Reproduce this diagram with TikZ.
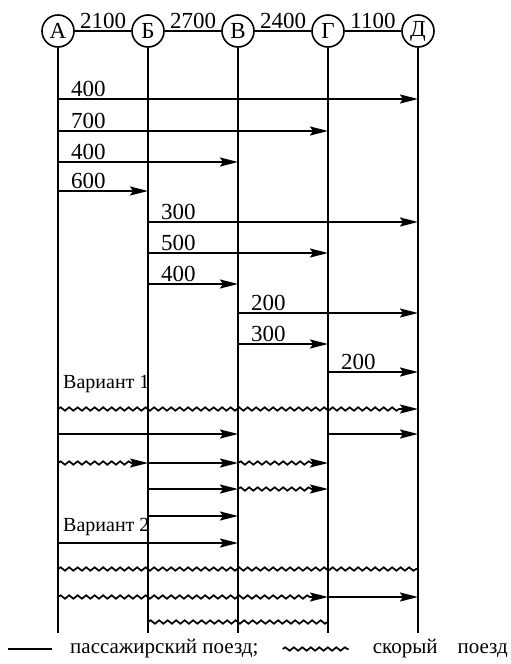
\documentclass[tikz,border=0pt]{standalone}
\usepackage{fontspec}
\setmainfont{Liberation Serif}
\usetikzlibrary{arrows.meta,decorations.pathmorphing}

\begin{document}
\begin{tikzpicture}[x=1pt,y=1pt,>={Stealth[length=18pt,width=9pt,inset=3pt]},font=\fontsize{23}{25}\selectfont]
\tikzset{
  station/.style={circle,draw,line width=1.6pt,minimum size=32pt,inner sep=0pt},
  track/.style={line width=2.4pt},
  pass/.style={->,line width=2pt},
  wave/.style={line width=1.7pt,decorate,decoration={snake,amplitude=1.7pt,segment length=8.5pt}},
  expr/.style={wave,->,decoration={post length=16pt}},
  dist/.style={above right,inner sep=1pt,xshift=11pt},
  variant/.style={anchor=west,inner sep=0pt,font=\fontsize{20}{22}\selectfont}
}
\useasboundingbox (0,0) rectangle (511,-664);

% stations and distances
\node[station] (A) at (58,-31) {А};
\node[station] (B) at (148,-31) {Б};
\node[station] (V) at (238,-31) {В};
\node[station] (G) at (328,-31) {Г};
\node[station] (D) at (418,-31) {Д};
\foreach \s/\t/\km in {A/B/2100,B/V/2700,V/G/2400,G/D/1100}
  \draw[line width=1.6pt] (\s) -- node[above,inner sep=1pt] (k\km) {\km} (\t);
\foreach \s in {A,B,V,G,D}
  \draw[track] (\s.south) -- (\s |- 0,-633);

% passenger flows
\foreach \y/\s/\t/\n [count=\i] in {99/A/D/400,131/A/G/700,162/A/V/400,191/A/B/600,222/B/D/300,253/B/G/500,284/B/V/400,313/V/D/200,344/V/G/300,372/G/D/200}
  \draw[pass] (\s |- 0,-\y) -- (\t |- 0,-\y) node[pos=0,dist] (n\i) {\n};

% variant 1
\node[variant] (v1) at (63,-384) {Вариант 1};
\draw[expr] (A |- 0,-409) -- (D |- 0,-409);
\draw[pass] (A |- 0,-434) -- (V |- 0,-434);
\draw[pass] (G |- 0,-434) -- (D |- 0,-434);
\draw[expr] (A |- 0,-463) -- (B |- 0,-463);
\draw[pass] (B |- 0,-463) -- (V |- 0,-463);
\draw[expr] (V |- 0,-463) -- (G |- 0,-463);
\draw[pass] (B |- 0,-489) -- (V |- 0,-489);
\draw[expr] (V |- 0,-489) -- (G |- 0,-489);
\draw[pass] (B |- 0,-516) -- (V |- 0,-516);

% variant 2
\node[variant] (v2) at (63,-527) {Вариант 2};
\draw[pass] (A |- 0,-543) -- (V |- 0,-543);
\draw[wave] (A |- 0,-569) -- (D |- 0,-569);
\draw[expr] (A |- 0,-597) -- (G |- 0,-597);
\draw[pass] (G |- 0,-597) -- (D |- 0,-597);
\draw[wave] (B |- 0,-622) -- (G |- 0,-622);

% legend
\coordinate (ls) at (8,-649);
\node[anchor=west,inner sep=0pt,font=\fontsize{21}{23}\selectfont] (lp) at (70,-649) {пассажирский поезд;};
\node[anchor=east,inner sep=0pt,text width=135pt,font=\fontsize{21}{23}\selectfont] (le) at (508,-649) {скорый\hfill поезд};
\draw[line width=2pt] (ls) -- ([xshift=-18pt]lp.west);
\draw[wave] ([xshift=24pt]lp.east) -- ([xshift=-24pt]le.west);
\end{tikzpicture}
\end{document}
